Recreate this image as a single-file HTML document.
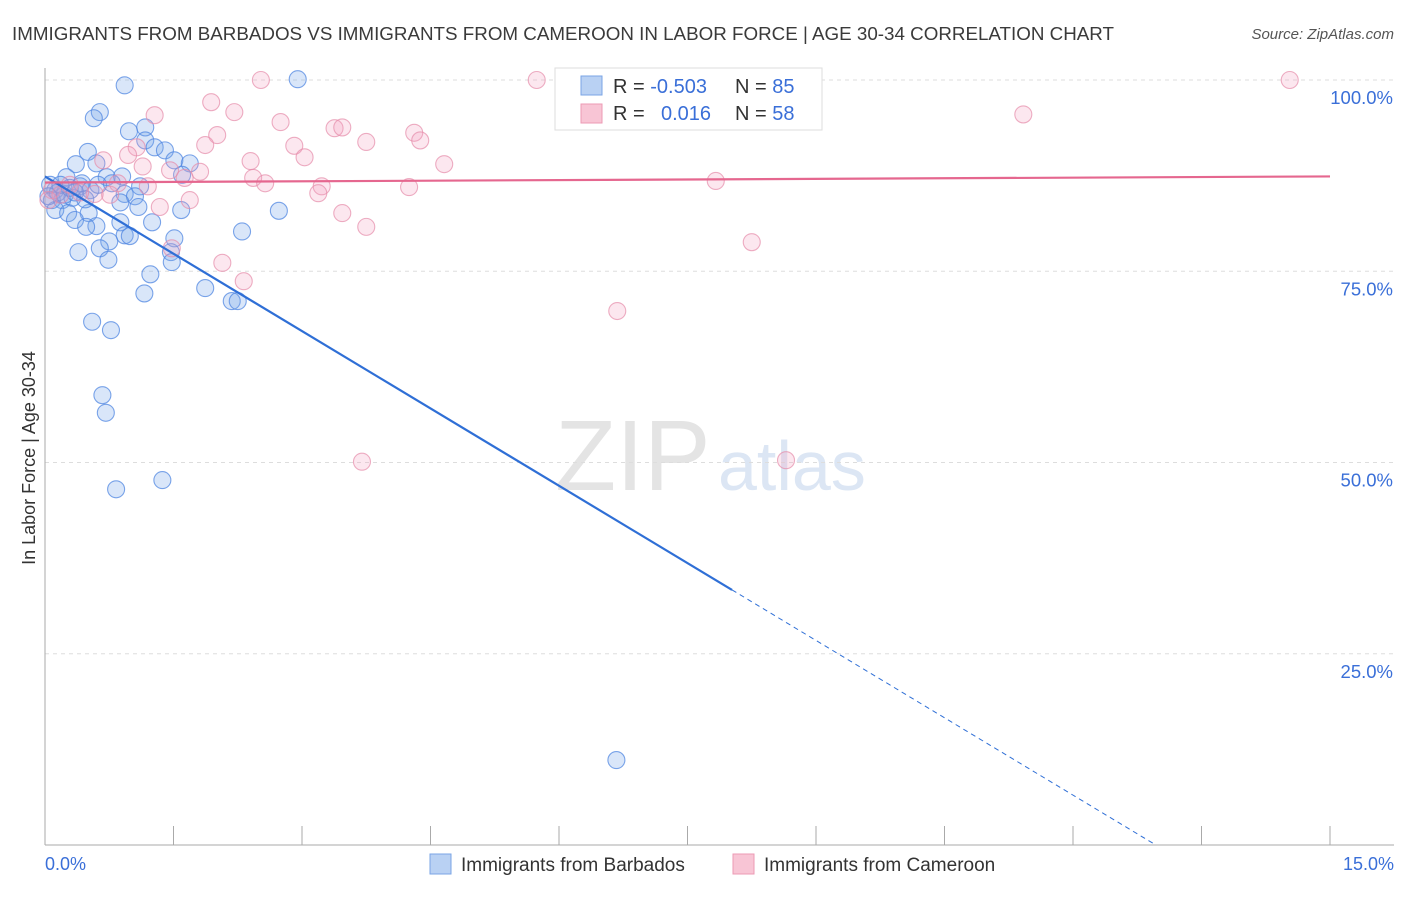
<!DOCTYPE html>
<html><head><meta charset="utf-8"><style>
body{margin:0;background:#fff;font-family:"Liberation Sans",sans-serif;}
svg text{font-family:"Liberation Sans",sans-serif;}
</style></head><body>
<svg id="chart" width="1406" height="892">
<text x="12" y="40" font-size="18.8" fill="#3a3a3a">IMMIGRANTS FROM BARBADOS VS IMMIGRANTS FROM CAMEROON IN LABOR FORCE | AGE 30-34 CORRELATION CHART</text>
<text x="1394" y="39" font-size="15" fill="#555" text-anchor="end" font-style="italic">Source: ZipAtlas.com</text>
<g>
<text x="555" y="490" font-size="100" fill="#e4e4e4" font-family="Liberation Serif">ZIP</text>
<text x="718" y="490" font-size="70" fill="#dce6f4">atlas</text>
</g>
<g id="grid"></g><g id="axes"></g><g id="pts"></g><g id="lines"></g>
<g>
<rect x="555" y="68" width="267" height="62" fill="#fff" stroke="#ddd"/>
<rect x="581" y="76" width="21" height="19" fill="#b9d1f3" stroke="#7aa4e6"/>
<rect x="581" y="104" width="21" height="19" fill="#f8c5d5" stroke="#ec9ab4"/>
<text x="613" y="93" font-size="20" fill="#333">R = <tspan fill="#3a6fd8">-0.503</tspan></text>
<text x="735" y="93" font-size="20" fill="#333">N = <tspan fill="#3a6fd8">85</tspan></text>
<text x="613" y="120" font-size="20" fill="#333">R = <tspan fill="#3a6fd8" x="661">0.016</tspan></text>
<text x="735" y="120" font-size="20" fill="#333">N = <tspan fill="#3a6fd8">58</tspan></text>
</g>
<text x="35" y="458" font-size="18" fill="#333" transform="rotate(-90 35 458)" text-anchor="middle">In Labor Force | Age 30-34</text>
<text x="45" y="870" font-size="18" fill="#3a6fd8">0.0%</text>
<text x="1394" y="870" font-size="18" fill="#3a6fd8" text-anchor="end">15.0%</text>
<g>
<rect x="430" y="854" width="21" height="20" fill="#b9d1f3" stroke="#7aa4e6"/>
<text x="461" y="871" font-size="19" fill="#333">Immigrants from Barbados</text>
<rect x="733" y="854" width="21" height="20" fill="#f8c5d5" stroke="#ec9ab4"/>
<text x="764" y="871" font-size="19" fill="#333">Immigrants from Cameroon</text>
</g>
</svg>
<script>
const yTicks=[25,50,75,100];
const yTickLabels=["25.0%","50.0%","75.0%","100.0%"];
const xTicks=[0,1.5,3,4.5,6,7.5,9,10.5,12,13.5,15];
const blueX=[0.93,2.95,0.64,0.57,0.98,1.17,1.17,1.28,1.40,0.50,0.36,0.60,1.51,1.69,0.72,0.90,0.25,1.60,1.11,0.12,0.41,0.93,1.05,0.08,0.20,0.32,0.88,1.09,0.12,0.27,0.51,1.59,2.73,0.35,0.88,1.25,0.60,2.30,0.48,0.93,0.99,0.75,1.51,0.64,0.39,1.47,0.74,1.48,1.23,1.16,1.87,2.18,2.25,0.55,0.77,0.67,0.71,1.37,0.83,6.67,0.06,0.15,0.23,0.29,0.43,0.53,0.04,0.18,0.35,0.47,0.62,0.78];
const blueY=[99.3,100.1,95.8,95.0,93.3,93.8,92.1,91.2,90.8,90.6,89.0,89.1,89.5,89.1,87.3,87.4,87.3,87.6,86.1,85.6,86.1,85.1,84.8,84.3,84.3,84.6,84.0,83.4,83.0,82.6,82.6,83.0,82.9,81.7,81.4,81.4,80.9,80.2,80.8,79.7,79.6,78.9,79.3,78.0,77.5,77.5,76.5,76.2,74.6,72.1,72.8,71.1,71.1,68.4,67.3,58.8,56.5,47.7,46.5,11.1,86.3,85.3,85.0,85.9,86.5,85.6,84.8,86.3,85.3,84.4,86.3,86.5];
const pinkX=[2.52,5.74,8.95,14.53,1.94,2.21,1.28,11.42,2.75,3.38,3.47,4.31,4.38,3.75,2.01,1.87,2.91,1.07,0.97,3.03,0.68,2.40,4.66,1.14,1.46,1.81,1.63,2.43,2.57,7.83,3.23,0.85,1.20,4.25,3.19,0.58,0.76,1.69,1.34,3.47,3.75,8.25,1.48,2.07,2.32,6.68,3.70,8.65,0.08,0.18,0.29,0.04,0.41];
const pinkY=[100,100,100,100,97.1,95.8,95.4,95.5,94.5,93.7,93.8,93.1,92.1,91.9,92.8,91.5,91.4,91.2,90.2,89.9,89.5,89.4,89.0,88.7,88.2,88.0,87.2,87.2,86.5,86.8,86.1,86.5,86.1,86.0,85.2,85.1,85.0,84.3,83.4,82.6,80.8,78.8,78.0,76.1,73.7,69.8,50.1,50.3,85.6,85.0,86.3,84.3,85.3];
const blueFit=[87.4,-6.74], blueSolidEnd=8.02, blueDashEnd=12.96;
const pinkFit=[86.6,0.053];
const X=v=>45+v/15*1285, Y=v=>845-v/100*765;
const NS="http://www.w3.org/2000/svg";
function mk(parent,tag,attrs){const e=document.createElementNS(NS,tag);for(const k in attrs)e.setAttribute(k,attrs[k]);document.getElementById(parent).appendChild(e);return e;}
yTicks.forEach((t,i)=>{
 const l=mk('grid','line',{x1:45,x2:1394,y1:Y(t),y2:Y(t),stroke:'#ddd','stroke-dasharray':'4 4'});
 
 
 const tx=mk('grid','text',{x:1393,y:Y(t)+24,'font-size':18.5,fill:'#3a6fd8','text-anchor':'end'});
 tx.textContent=yTickLabels[i];
 
 
});
const ya=mk('axes','line',{x1:45,x2:45,y1:68,y2:845,stroke:'#aaa'});


const xa=mk('axes','line',{x1:45,x2:1394,y1:845,y2:845,stroke:'#aaa'});


xTicks.forEach(t=>{
 const l=mk('axes','line',{x1:X(t),x2:X(t),y1:826,y2:845,stroke:'#aaa'});
 
 
});
blueX.forEach((v,i)=>{
 const c=mk('pts','circle',{cx:X(v),cy:Y(blueY[i]),r:8.5,fill:'rgba(120,165,235,0.28)',stroke:'rgba(80,135,225,0.75)','stroke-width':1.1});
 
 
});
pinkX.forEach((v,i)=>{
 const c=mk('pts','circle',{cx:X(v),cy:Y(pinkY[i]),r:8.5,fill:'rgba(245,160,190,0.25)',stroke:'rgba(230,140,170,0.7)','stroke-width':1.1});
 
 
});
const fb=x=>blueFit[0]+blueFit[1]*x, fp=x=>pinkFit[0]+pinkFit[1]*x;
const bl=mk('lines','line',{x1:X(0),y1:Y(fb(0)),x2:X(blueSolidEnd),y2:Y(fb(blueSolidEnd)),stroke:'#2f6fd6','stroke-width':2.2});


const bd=mk('lines','line',{x1:X(blueSolidEnd),y1:Y(fb(blueSolidEnd)),x2:X(blueDashEnd),y2:Y(fb(blueDashEnd)),stroke:'#2f6fd6','stroke-width':1,'stroke-dasharray':'5 4'});


const pl=mk('lines','line',{x1:X(0),y1:Y(fp(0)),x2:X(15),y2:Y(fp(15)),stroke:'#e5678f','stroke-width':2.2});


</script>
</body></html>
